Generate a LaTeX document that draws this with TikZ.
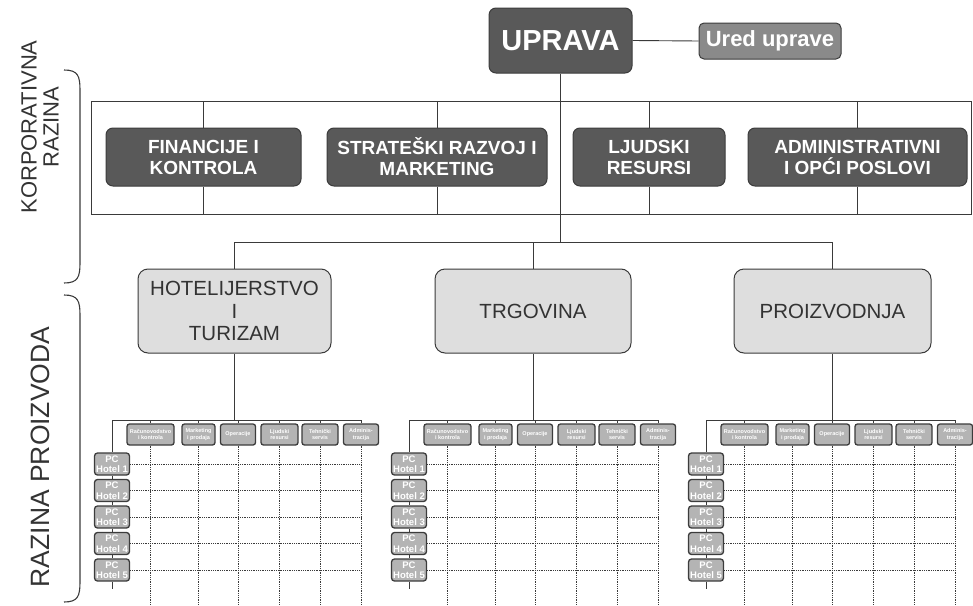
\documentclass[tikz,border=0pt]{standalone}
\usepackage{fontspec}
\setmainfont{Liberation Sans}
\definecolor{boxdark}{HTML}{595959}
\definecolor{boxdarkedge}{HTML}{3C3C3C}
\definecolor{boxmid}{HTML}{8A8A8A}
\definecolor{divfill}{HTML}{DEDEDE}
\definecolor{smallfill}{HTML}{B4B4B4}
\definecolor{linecol}{HTML}{3A3A3A}
\definecolor{textcol}{HTML}{333333}
\tikzset{
  conn/.style={draw=linecol, line width=0.9pt},
  dotl/.style={draw=linecol, densely dotted, line width=0.8pt},
  darkbox/.style={rounded corners=7pt, fill=boxdark, draw=boxdarkedge, line width=1pt, text=white, align=center, inner sep=0pt},
  midbox/.style={rounded corners=5pt, fill=boxmid, draw=boxdarkedge, line width=1pt, text=white, align=center, inner sep=0pt},
  divbox/.style={rounded corners=10pt, fill=divfill, draw=linecol, line width=1pt, text=textcol, align=center, inner sep=0pt, font=\fontsize{20.5}{22.5}\selectfont},
  hdrbox/.style={rounded corners=2.5pt, fill=smallfill, draw=boxdarkedge, line width=1.3pt, text=white, align=center, inner sep=0pt, minimum height=21pt, font=\bfseries\fontsize{5.5}{6.5}\selectfont},
  pcbox/.style={rounded corners=3pt, fill=smallfill, draw=boxdarkedge, line width=1.3pt, text=white, align=center, inner sep=0pt, minimum width=35pt, minimum height=22pt, font=\bfseries\fontsize{9.5}{10.5}\selectfont},
  sidelabel/.style={rotate=90, align=center, text=textcol, inner sep=0pt},
}
\begin{document}
\begin{tikzpicture}[x=1pt,y=-1pt]
\useasboundingbox (0,0) rectangle (973,605);
% top
\node[darkbox, minimum width=143pt, minimum height=65pt, font=\bfseries\fontsize{29}{31}\selectfont] (uprava) at (560.5,40.5) {UPRAVA};
\node[midbox, minimum width=142pt, minimum height=36pt, font=\bfseries\fontsize{22}{24}\selectfont] (ured) at (770,41) {Ured uprave};
\draw[conn] (uprava.east) -- (ured.west);
% corporate frame
\coordinate (ctl) at (91,101);
\coordinate (cbr) at (971,214);
\draw[conn] (ctl) rectangle (cbr);
\node[darkbox, minimum width=195pt, minimum height=58pt, font=\bfseries\fontsize{19}{21}\selectfont] (fin) at (203.5,157) {FINANCIJE I\\KONTROLA};
\node[darkbox, minimum width=220pt, minimum height=58pt, font=\bfseries\fontsize{19}{21}\selectfont] (str) at (437,157) {STRATEŠKI RAZVOJ I\\MARKETING};
\node[darkbox, minimum width=152pt, minimum height=58pt, font=\bfseries\fontsize{19}{21}\selectfont] (lju) at (649,157) {LJUDSKI\\RESURSI};
\node[darkbox, minimum width=219pt, minimum height=58pt, font=\bfseries\fontsize{19}{21}\selectfont] (adm) at (857.5,157) {ADMINISTRATIVNI\\I OPĆI POSLOVI};
\foreach \b in {fin,str,lju,adm}{
  \draw[conn] (\b.north) -- (\b.north |- ctl);
  \draw[conn] (\b.south) -- (\b.south |- cbr);
}
% divisions
\coordinate (bus) at (0,242);
\node[divbox, minimum width=193pt, minimum height=84pt] (hot) at (234.5,311) {HOTELIJERSTVO\\I\\TURIZAM};
\node[divbox, minimum width=196pt, minimum height=84pt] (trg) at (533,311) {TRGOVINA};
\node[divbox, minimum width=197pt, minimum height=84pt] (pro) at (832.5,311) {PROIZVODNJA};
\draw[conn] (uprava.south) -- (uprava.south |- bus);
\draw[conn] (hot.north |- bus) -- (pro.north |- bus);
\foreach \b in {hot,trg,pro}{
  \draw[conn] (\b.north |- bus) -- (\b.north);
}
% side labels
\node[sidelabel, font=\fontsize{22}{22}\selectfont] (lk) at (40,127) {KORPORATIVNA\\RAZINA};
\node[sidelabel, font=\fontsize{26.5}{28}\selectfont] (lp) at (40,457) {RAZINA PROIZVODA};
\draw[line width=1.1pt, draw=linecol] (64,70) .. controls (78,70) and (80,76) .. (80,90) -- (80,263) .. controls (80,277) and (78,283) .. (64,283);
\draw[line width=1.1pt, draw=linecol] (64,295) .. controls (78,295) and (80,301) .. (80,315) -- (80,582) .. controls (80,596) and (78,602) .. (64,602);
% matrices
\coordinate (bottom) at (0,605);
\foreach \L/\d/\m in {112/hot/a, 409/trg/b, 706/pro/c}{
  \coordinate (\m-tl) at (\L,420);
  \coordinate (\m-tr) at (\L+249,420);
  \draw[conn] (\d.south) -- (\d.south |- \m-tl);
  \draw[conn] (\m-tl) -- (\m-tr);
  \foreach \dx/\w/\t [count=\j] in {38.5/47/{Računovodstvo\\i kontrola}, 86.5/33/{Marketing\\i prodaja}, 126/35/{Operacije}, 167.5/37/{Ljudski\\resursi}, 208/36/{Tehnički\\servis}, 249/35/{Adminis-\\tracija}}{
    \node[hdrbox, minimum width=\w pt] (\m-h\j) at (\L+\dx,434.5) {\t};
    \draw[conn] (\m-h\j.north |- \m-tl) -- (\m-h\j.north);
    \draw[dotl] (\m-h\j.south) -- (\m-h\j.south |- bottom);
  }
  \foreach \i in {1,...,5}{
    \node[pcbox] (\m-p\i) at (\L,{464+26.5*(\i-1)}) {PC\\Hotel \i};
    \draw[dotl] (\m-p\i.east) -- (\m-p\i.east -| \m-tr);
  }
  \draw[conn] (\m-tl) -- (\m-p1.north);
  \foreach \i [evaluate=\i as \k using int(\i+1)] in {1,...,4}{
    \draw[conn] (\m-p\i.south) -- (\m-p\k.north);
  }
  \coordinate (\m-end) at (\L,589);
  \draw[conn] (\m-p5.south) -- (\m-end);
}
\end{tikzpicture}
\end{document}
